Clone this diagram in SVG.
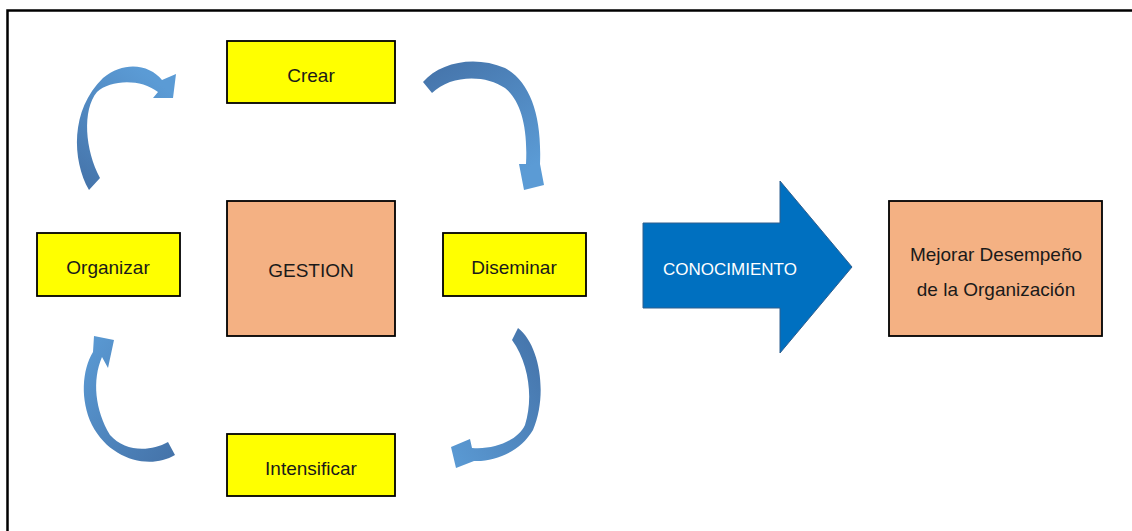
<svg xmlns="http://www.w3.org/2000/svg" width="1132" height="531" viewBox="0 0 1132 531">
<style>
.y{fill:#ffff00;stroke:#000;stroke-width:1.8}
.s{fill:#f4b183;stroke:#000;stroke-width:1.8}
.t{font-family:"Liberation Sans",Arial,sans-serif;font-size:19px;fill:#1a1a1a;text-anchor:middle}
</style>
<defs>
<linearGradient id="g1" x1="0" y1="1" x2="0.6" y2="0"><stop offset="0" stop-color="#4472a8"/><stop offset="1" stop-color="#5b9bd5"/></linearGradient>
<linearGradient id="g2" x1="0" y1="0" x2="0.6" y2="1"><stop offset="0" stop-color="#4472a8"/><stop offset="1" stop-color="#5b9bd5"/></linearGradient>
<linearGradient id="g3" x1="1" y1="0" x2="0" y2="1"><stop offset="0" stop-color="#4472a8"/><stop offset="1" stop-color="#5b9bd5"/></linearGradient>
<linearGradient id="g4" x1="1" y1="1" x2="0" y2="0"><stop offset="0" stop-color="#4472a8"/><stop offset="1" stop-color="#5b9bd5"/></linearGradient>
</defs>
<rect width="1132" height="531" fill="#fff"/>
<path d="M7.5,531 V10.5 H1132" fill="none" stroke="#000" stroke-width="2.5"/>
<g id="connectors">
<path d="M89,190 C72,160 70,110 103,78 C125,60 150,65 162,80 L176,74 L173,98 L153,98 L158,92 C140,78 110,80 97,92 C82,110 85,150 100,178 Z" fill="url(#g1)"/>
<path d="M423,82 C440,62 475,55 505,68 C530,82 542,115 540,164 L544,185 L524,190 L519,164 L526,164 C528,125 520,100 505,88 C485,74 450,75 432,93 Z" fill="url(#g2)"/>
<path d="M518,328 C540,345 548,395 533,430 C520,452 495,462 474,461 L456,468 L451,447 L470,439 L472,448 C495,450 518,440 525,425 C533,400 530,365 512,340 Z" fill="url(#g3)"/>
<path d="M175,455 C150,470 110,460 92,425 C80,400 82,370 93,352 L94,336 L114,340 L108,368 L102,357 C92,380 95,410 110,435 C125,452 150,452 168,442 Z" fill="url(#g4)"/>
</g>
<g id="crear"><rect class="y" x="227" y="41" width="168" height="62"/><text class="t" x="311" y="82">Crear</text></g>
<g id="organizar"><rect class="y" x="37" y="233" width="143" height="63"/><text class="t" x="108" y="274">Organizar</text></g>
<g id="gestion"><rect class="s" x="227" y="201" width="168" height="135"/><text class="t" x="311" y="277">GESTION</text></g>
<g id="diseminar"><rect class="y" x="443" y="233" width="143" height="63"/><text class="t" x="514" y="274">Diseminar</text></g>
<g id="intensificar"><rect class="y" x="227" y="434" width="168" height="62"/><text class="t" x="311" y="475">Intensificar</text></g>
<g id="conocimiento"><path d="M643,223 H780 V181 L852,267 L780,353 V308 H643 Z" fill="#0070c0" stroke="#2e5e8e" stroke-width="1"/><text class="t" x="730" y="275" style="fill:#fff;font-size:17px">CONOCIMIENTO</text></g>
<g id="mejorar"><rect class="s" x="889" y="201" width="213" height="135"/><text class="t" x="996" y="261">Mejorar Desempeño</text><text class="t" x="996" y="296">de la Organización</text></g>
</svg>
